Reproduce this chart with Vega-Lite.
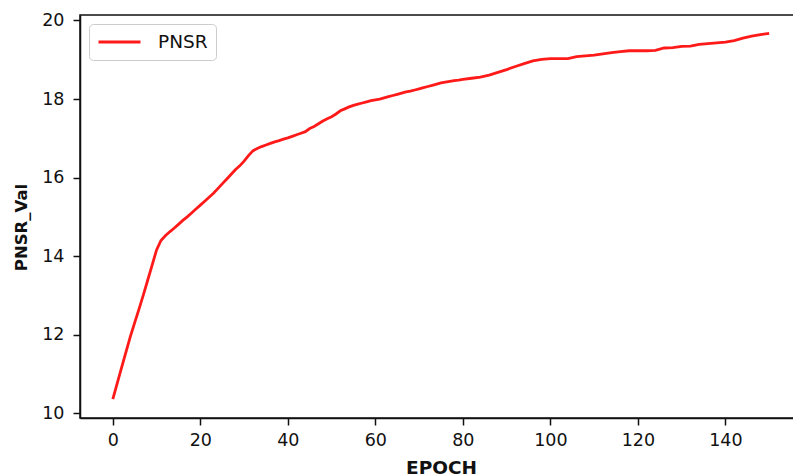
{
  "$schema": "https://vega.github.io/schema/vega-lite/v6.json",
  "width": 722,
  "height": 403,
  "autosize": {"type": "none"},
  "padding": {"left": 80, "top": 15, "right": 0, "bottom": 57},
  "background": "white",
  "config": {
    "font": "DejaVu Sans",
    "view": {"stroke": "#111", "strokeWidth": 1.5},
    "axis": {
      "grid": false,
      "domainColor": "#111",
      "domainWidth": 1.5,
      "tickColor": "#111",
      "tickWidth": 1.5,
      "tickSize": 7,
      "labelFont": "DejaVu Sans",
      "labelFontSize": 17.5,
      "labelColor": "#111",
      "titleFont": "DejaVu Sans",
      "titleFontWeight": "bold",
      "titleColor": "#111"
    }
  },
  "data": {
    "values": [
      {"epoch": 0, "psnr": 10.36, "series": "PNSR"},
      {"epoch": 1, "psnr": 10.76, "series": "PNSR"},
      {"epoch": 2, "psnr": 11.16, "series": "PNSR"},
      {"epoch": 3, "psnr": 11.56, "series": "PNSR"},
      {"epoch": 4, "psnr": 11.95, "series": "PNSR"},
      {"epoch": 5, "psnr": 12.31, "series": "PNSR"},
      {"epoch": 6, "psnr": 12.66, "series": "PNSR"},
      {"epoch": 7, "psnr": 13.02, "series": "PNSR"},
      {"epoch": 8, "psnr": 13.4, "series": "PNSR"},
      {"epoch": 9, "psnr": 13.78, "series": "PNSR"},
      {"epoch": 10, "psnr": 14.16, "series": "PNSR"},
      {"epoch": 11, "psnr": 14.4, "series": "PNSR"},
      {"epoch": 12, "psnr": 14.52, "series": "PNSR"},
      {"epoch": 13, "psnr": 14.62, "series": "PNSR"},
      {"epoch": 14, "psnr": 14.71, "series": "PNSR"},
      {"epoch": 15, "psnr": 14.81, "series": "PNSR"},
      {"epoch": 16, "psnr": 14.91, "series": "PNSR"},
      {"epoch": 17, "psnr": 15.0, "series": "PNSR"},
      {"epoch": 18, "psnr": 15.1, "series": "PNSR"},
      {"epoch": 19, "psnr": 15.2, "series": "PNSR"},
      {"epoch": 20, "psnr": 15.3, "series": "PNSR"},
      {"epoch": 21, "psnr": 15.4, "series": "PNSR"},
      {"epoch": 22, "psnr": 15.5, "series": "PNSR"},
      {"epoch": 23, "psnr": 15.6, "series": "PNSR"},
      {"epoch": 24, "psnr": 15.72, "series": "PNSR"},
      {"epoch": 25, "psnr": 15.84, "series": "PNSR"},
      {"epoch": 26, "psnr": 15.96, "series": "PNSR"},
      {"epoch": 27, "psnr": 16.08, "series": "PNSR"},
      {"epoch": 28, "psnr": 16.2, "series": "PNSR"},
      {"epoch": 29, "psnr": 16.3, "series": "PNSR"},
      {"epoch": 30, "psnr": 16.42, "series": "PNSR"},
      {"epoch": 31, "psnr": 16.56, "series": "PNSR"},
      {"epoch": 32, "psnr": 16.68, "series": "PNSR"},
      {"epoch": 33, "psnr": 16.74, "series": "PNSR"},
      {"epoch": 34, "psnr": 16.79, "series": "PNSR"},
      {"epoch": 35, "psnr": 16.83, "series": "PNSR"},
      {"epoch": 36, "psnr": 16.87, "series": "PNSR"},
      {"epoch": 37, "psnr": 16.91, "series": "PNSR"},
      {"epoch": 38, "psnr": 16.94, "series": "PNSR"},
      {"epoch": 39, "psnr": 16.98, "series": "PNSR"},
      {"epoch": 40, "psnr": 17.01, "series": "PNSR"},
      {"epoch": 41, "psnr": 17.05, "series": "PNSR"},
      {"epoch": 42, "psnr": 17.09, "series": "PNSR"},
      {"epoch": 43, "psnr": 17.13, "series": "PNSR"},
      {"epoch": 44, "psnr": 17.17, "series": "PNSR"},
      {"epoch": 45, "psnr": 17.25, "series": "PNSR"},
      {"epoch": 46, "psnr": 17.3, "series": "PNSR"},
      {"epoch": 47, "psnr": 17.37, "series": "PNSR"},
      {"epoch": 48, "psnr": 17.44, "series": "PNSR"},
      {"epoch": 49, "psnr": 17.5, "series": "PNSR"},
      {"epoch": 50, "psnr": 17.55, "series": "PNSR"},
      {"epoch": 51, "psnr": 17.62, "series": "PNSR"},
      {"epoch": 52, "psnr": 17.7, "series": "PNSR"},
      {"epoch": 53, "psnr": 17.75, "series": "PNSR"},
      {"epoch": 54, "psnr": 17.8, "series": "PNSR"},
      {"epoch": 55, "psnr": 17.84, "series": "PNSR"},
      {"epoch": 56, "psnr": 17.87, "series": "PNSR"},
      {"epoch": 57, "psnr": 17.9, "series": "PNSR"},
      {"epoch": 58, "psnr": 17.93, "series": "PNSR"},
      {"epoch": 59, "psnr": 17.96, "series": "PNSR"},
      {"epoch": 60, "psnr": 17.98, "series": "PNSR"},
      {"epoch": 61, "psnr": 18.0, "series": "PNSR"},
      {"epoch": 62, "psnr": 18.03, "series": "PNSR"},
      {"epoch": 63, "psnr": 18.06, "series": "PNSR"},
      {"epoch": 64, "psnr": 18.09, "series": "PNSR"},
      {"epoch": 65, "psnr": 18.12, "series": "PNSR"},
      {"epoch": 66, "psnr": 18.15, "series": "PNSR"},
      {"epoch": 67, "psnr": 18.18, "series": "PNSR"},
      {"epoch": 68, "psnr": 18.2, "series": "PNSR"},
      {"epoch": 69, "psnr": 18.23, "series": "PNSR"},
      {"epoch": 70, "psnr": 18.26, "series": "PNSR"},
      {"epoch": 71, "psnr": 18.29, "series": "PNSR"},
      {"epoch": 72, "psnr": 18.32, "series": "PNSR"},
      {"epoch": 73, "psnr": 18.35, "series": "PNSR"},
      {"epoch": 74, "psnr": 18.38, "series": "PNSR"},
      {"epoch": 75, "psnr": 18.41, "series": "PNSR"},
      {"epoch": 76, "psnr": 18.43, "series": "PNSR"},
      {"epoch": 77, "psnr": 18.45, "series": "PNSR"},
      {"epoch": 78, "psnr": 18.47, "series": "PNSR"},
      {"epoch": 79, "psnr": 18.48, "series": "PNSR"},
      {"epoch": 80, "psnr": 18.5, "series": "PNSR"},
      {"epoch": 82, "psnr": 18.53, "series": "PNSR"},
      {"epoch": 84, "psnr": 18.56, "series": "PNSR"},
      {"epoch": 86, "psnr": 18.61, "series": "PNSR"},
      {"epoch": 88, "psnr": 18.68, "series": "PNSR"},
      {"epoch": 90, "psnr": 18.75, "series": "PNSR"},
      {"epoch": 92, "psnr": 18.83, "series": "PNSR"},
      {"epoch": 94, "psnr": 18.9, "series": "PNSR"},
      {"epoch": 96, "psnr": 18.97, "series": "PNSR"},
      {"epoch": 98, "psnr": 19.01, "series": "PNSR"},
      {"epoch": 100, "psnr": 19.03, "series": "PNSR"},
      {"epoch": 102, "psnr": 19.03, "series": "PNSR"},
      {"epoch": 104, "psnr": 19.03, "series": "PNSR"},
      {"epoch": 106, "psnr": 19.08, "series": "PNSR"},
      {"epoch": 108, "psnr": 19.1, "series": "PNSR"},
      {"epoch": 110, "psnr": 19.12, "series": "PNSR"},
      {"epoch": 112, "psnr": 19.15, "series": "PNSR"},
      {"epoch": 114, "psnr": 19.18, "series": "PNSR"},
      {"epoch": 116, "psnr": 19.21, "series": "PNSR"},
      {"epoch": 118, "psnr": 19.23, "series": "PNSR"},
      {"epoch": 120, "psnr": 19.23, "series": "PNSR"},
      {"epoch": 122, "psnr": 19.23, "series": "PNSR"},
      {"epoch": 124, "psnr": 19.24, "series": "PNSR"},
      {"epoch": 126, "psnr": 19.3, "series": "PNSR"},
      {"epoch": 128, "psnr": 19.31, "series": "PNSR"},
      {"epoch": 130, "psnr": 19.34, "series": "PNSR"},
      {"epoch": 132, "psnr": 19.35, "series": "PNSR"},
      {"epoch": 134, "psnr": 19.39, "series": "PNSR"},
      {"epoch": 136, "psnr": 19.41, "series": "PNSR"},
      {"epoch": 138, "psnr": 19.43, "series": "PNSR"},
      {"epoch": 140, "psnr": 19.45, "series": "PNSR"},
      {"epoch": 142, "psnr": 19.49, "series": "PNSR"},
      {"epoch": 144, "psnr": 19.55, "series": "PNSR"},
      {"epoch": 146, "psnr": 19.6, "series": "PNSR"},
      {"epoch": 148, "psnr": 19.64, "series": "PNSR"},
      {"epoch": 150, "psnr": 19.67, "series": "PNSR"}
    ]
  },
  "mark": {"type": "line", "strokeWidth": 2.8},
  "encoding": {
    "x": {
      "field": "epoch",
      "type": "quantitative",
      "scale": {"domain": [-7.5, 157.5], "nice": false, "zero": false},
      "axis": {"title": "EPOCH", "titleFontSize": 18.5, "values": [0, 20, 40, 60, 80, 100, 120, 140], "labelPadding": 6, "titlePadding": 10}
    },
    "y": {
      "field": "psnr",
      "type": "quantitative",
      "scale": {"domain": [9.88, 20.14], "nice": false, "zero": false},
      "axis": {"title": "PNSR_Val", "titleFontSize": 16.5, "titleY": 212, "values": [10, 12, 14, 16, 18, 20], "labelPadding": 9, "titlePadding": 12}
    },
    "color": {
      "field": "series",
      "type": "nominal",
      "scale": {"domain": ["PNSR"], "range": ["#ff1a1a"]},
      "legend": {
        "title": null,
        "orient": "top-left",
        "offset": 9,
        "symbolType": "stroke",
        "symbolSize": 1764,
        "symbolStrokeWidth": 2.8,
        "labelFontSize": 18.5,
        "labelColor": "#111",
        "labelOffset": 16,
        "padding": 8,
        "clipHeight": 20,
        "strokeColor": "#cccccc",
        "fillColor": "white",
        "cornerRadius": 4
      }
    }
  }
}
